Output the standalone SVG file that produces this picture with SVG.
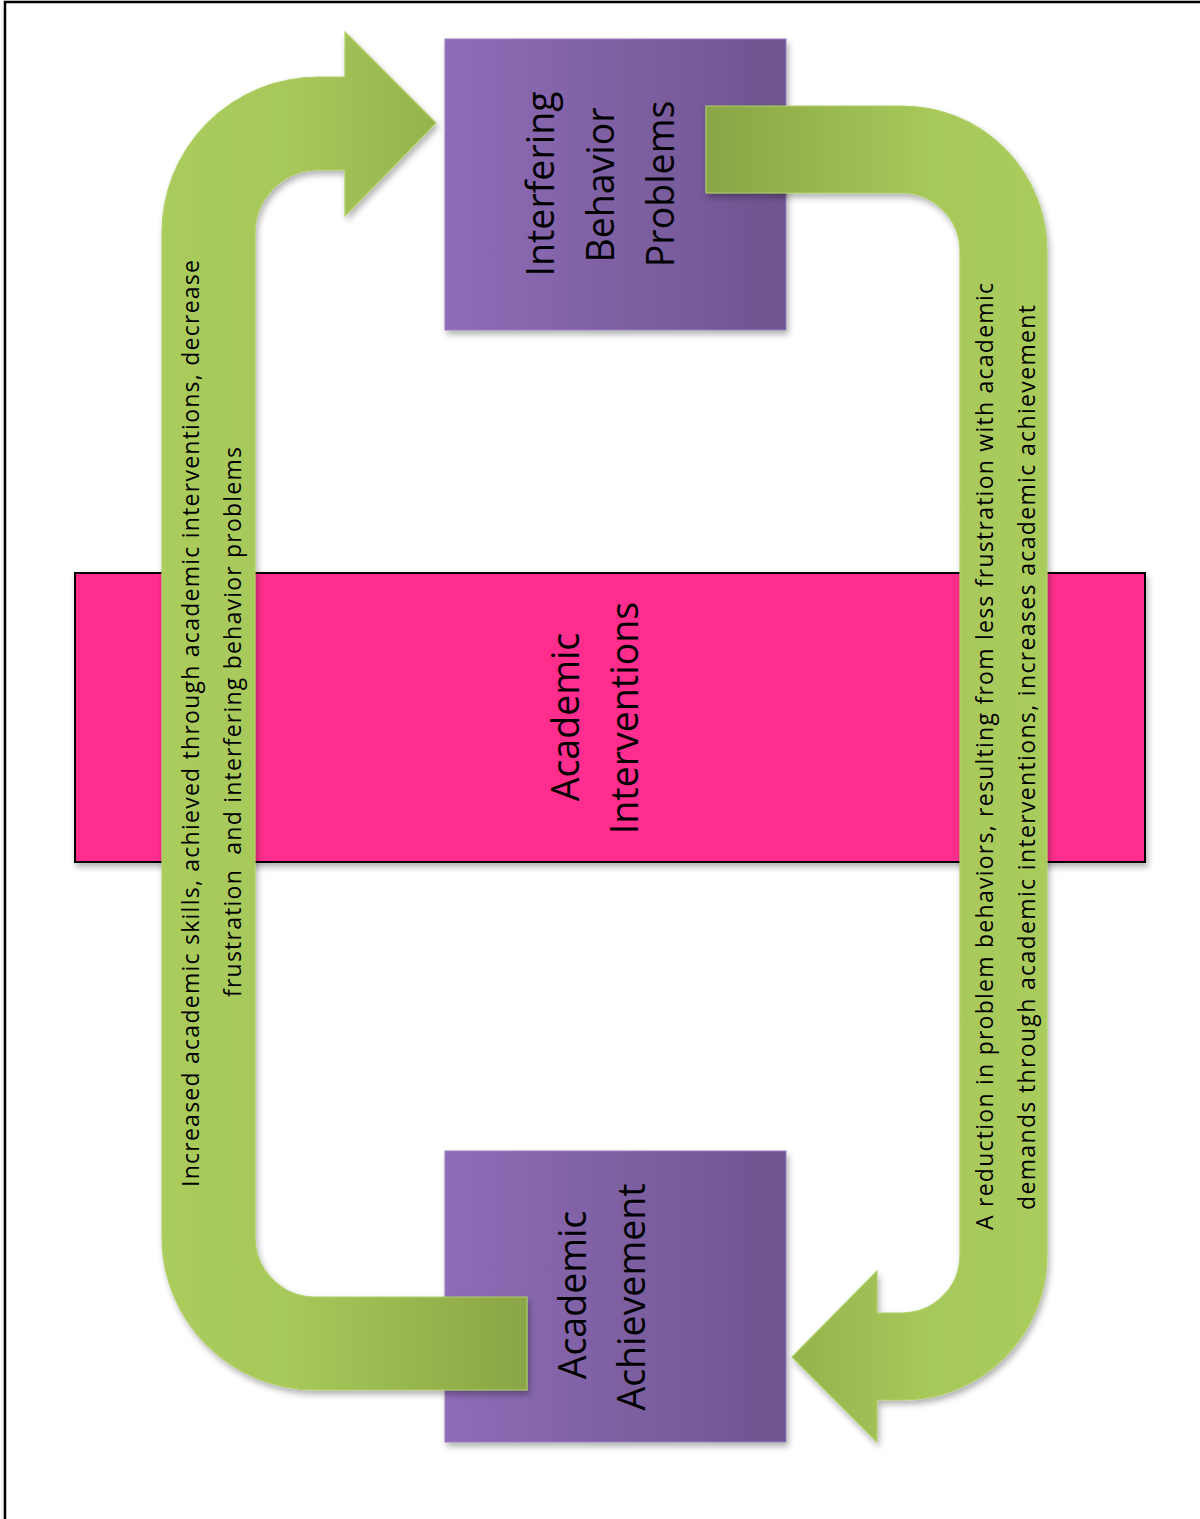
<svg xmlns="http://www.w3.org/2000/svg" width="1200" height="1519" viewBox="0 0 1200 1519">
<defs>
<linearGradient id="purple" x1="0" y1="0" x2="1" y2="0">
<stop offset="0" stop-color="#8F6CB7"/>
<stop offset="1" stop-color="#6E548F"/>
</linearGradient>
<linearGradient id="greenL" gradientUnits="userSpaceOnUse" x1="162" y1="0" x2="527" y2="0">
<stop offset="0" stop-color="#AACC5C"/>
<stop offset="0.35" stop-color="#A7C85A"/>
<stop offset="1" stop-color="#8AA545"/>
</linearGradient>
<linearGradient id="greenR" gradientUnits="userSpaceOnUse" x1="706" y1="0" x2="1047" y2="0">
<stop offset="0" stop-color="#8AA545"/>
<stop offset="0.65" stop-color="#A7C85A"/>
<stop offset="1" stop-color="#AACC5C"/>
</linearGradient>
<filter id="shadow" x="-10%" y="-10%" width="120%" height="120%">
<feDropShadow dx="2" dy="4" stdDeviation="3" flood-color="#000" flood-opacity="0.3"/>
</filter>
<filter id="pageShadow" x="-5%" y="-5%" width="110%" height="110%">
<feDropShadow dx="2" dy="3" stdDeviation="3" flood-color="#000" flood-opacity="0.25"/>
</filter>
</defs>
<style>
.box { fill: url(#purple); stroke: #9A7EC0; stroke-width: 1; }
.big { font-family: "Open Sans", "Noto Sans", "Liberation Sans", sans-serif; font-size: 37.5px; fill: #000; text-anchor: middle; }
.small { font-family: "Open Sans", "Noto Sans", "Liberation Sans", sans-serif; font-size: 23px; fill: #000; text-anchor: middle; }
</style>
<rect x="0" y="0" width="1200" height="1519" fill="#FFFFFF"/>
<rect id="page" x="5" y="2" width="1215" height="1540" fill="#FFFFFF" stroke="#000" stroke-width="2.5" filter="url(#pageShadow)"/>

<g id="academic-interventions">
<rect x="75" y="573" width="1070" height="289" fill="#FF2E8E" stroke="#000" stroke-width="2" filter="url(#shadow)"/>
<text class="big" transform="translate(579,717) rotate(-90)">Academic</text>
<text class="big" transform="translate(638,718) rotate(-90)">Interventions</text>
</g>

<g id="interfering-behavior-problems">
<rect class="box" x="445" y="39" width="341" height="291" filter="url(#shadow)"/>
<text class="big" transform="translate(554,184) rotate(-90)">Interfering</text>
<text class="big" transform="translate(614,185) rotate(-90)">Behavior</text>
<text class="big" transform="translate(674,184) rotate(-90)">Problems</text>
</g>

<g id="academic-achievement">
<rect class="box" x="445" y="1151" width="341" height="291" filter="url(#shadow)"/>
<text class="big" transform="translate(586,1295) rotate(-90)">Academic</text>
<text class="big" transform="translate(645,1297) rotate(-90)">Achievement</text>
</g>

<g id="connectors">
<g id="arrow-left">
<path d="M527,1297 L315,1297 A60,60 0 0 1 255,1237 L255,233 A63,63 0 0 1 318,170 L345,170 L345,216 L436,123 L345,32 L345,77 L318,77 A156,156 0 0 0 162,233 L162,1237 A153,153 0 0 0 315,1390 L527,1390 Z" fill="url(#greenL)" stroke="#B0D067" stroke-width="1.2" filter="url(#shadow)"/>
<text class="small" transform="translate(199,723.5) rotate(-90)" textLength="927" lengthAdjust="spacing">Increased academic skills, achieved through academic interventions, decrease</text>
<text class="small" transform="translate(241,722) rotate(-90)" xml:space="preserve" textLength="550" lengthAdjust="spacing">frustration  and interfering behavior problems</text>
</g>
<g id="arrow-right">
<path d="M706,106 L902,106 A145,145 0 0 1 1047,251 L1047,1255 A145,145 0 0 1 902,1400 L877,1400 L877,1442 L792,1357 L877,1271 L877,1313 L902,1313 A58,58 0 0 0 960,1255 L960,251 A58,58 0 0 0 902,193 L706,193 Z" fill="url(#greenR)" stroke="#B0D067" stroke-width="1.2" filter="url(#shadow)"/>
<text class="small" transform="translate(993,756.5) rotate(-90)" textLength="947" lengthAdjust="spacing">A reduction in problem behaviors, resulting from less frustration with academic</text>
<text class="small" transform="translate(1035,757.5) rotate(-90)" textLength="905" lengthAdjust="spacing">demands through academic interventions, increases academic achievement</text>
</g>
</g>
</svg>
